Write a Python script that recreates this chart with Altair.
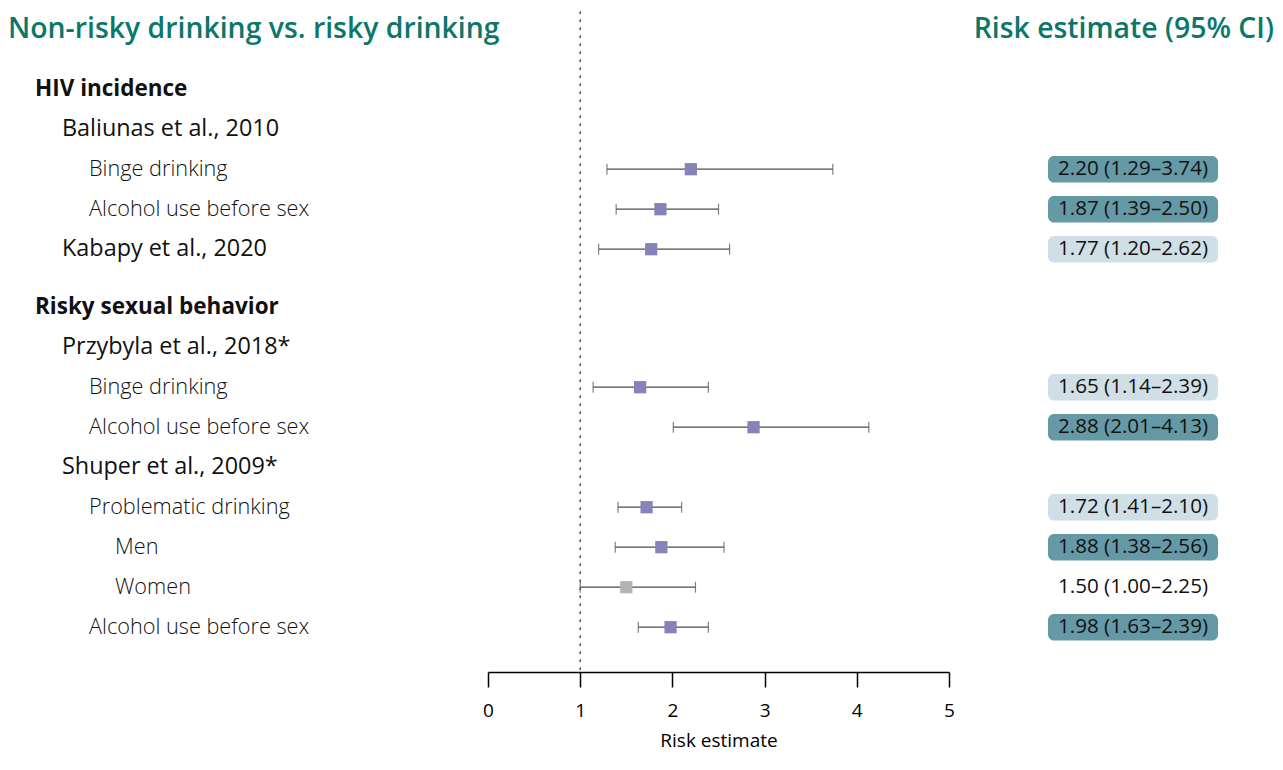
import altair as alt
import pandas as pd

labels = ["HIV incidence", "Baliunas et al., 2010", "Binge drinking", "Alcohol use before sex",
          "Kabapy et al., 2020", "Risky sexual behavior", "Przybyla et al., 2018*", "Binge drinking",
          "Alcohol use before sex", "Shuper et al., 2009*", "Problematic drinking", "Men", "Women",
          "Alcohol use before sex"]
levels = [0, 1, 2, 2, 1, 0, 1, 2, 2, 1, 2, 3, 3, 2]
est = [None, None, 2.20, 1.87, 1.77, None, None, 1.65, 2.88, None, 1.72, 1.88, 1.50, 1.98]
lo = [None, None, 1.29, 1.39, 1.20, None, None, 1.14, 2.01, None, 1.41, 1.38, 1.00, 1.63]
hi = [None, None, 3.74, 2.50, 2.62, None, None, 2.39, 4.13, None, 2.10, 2.56, 2.25, 2.39]
box = [None, None, "dark", "dark", "light", None, None, "light", "dark", None, "light", "dark", "none", "dark"]
sig = [None, None, "yes", "yes", "yes", None, None, "yes", "yes", None, "yes", "yes", "no", "yes"]

# row positions: one unit per row, a little extra space before the second section
pos = []
p = 0.0
for i, lv in enumerate(levels):
    if i > 0 and lv == 0:
        p += 0.45
    pos.append(p)
    p += 1

def fmt(e, l, h):
    if e is None:
        return None
    return f"{e:.2f} ({l:.2f}\u2013{h:.2f})"

df = pd.DataFrame({
    "label": labels, "level": levels, "pos": pos, "est": est, "lo": lo, "hi": hi,
    "box": box, "sig": sig,
    "ci": [fmt(e, l, h) for e, l, h in zip(est, lo, hi)],
})

FONT = "Open Sans"
TEAL = "#0b7768"
W, H = 1267, 664

yscale = alt.Scale(domain=[-2.03, 14.57], reverse=True, nice=False, zero=False)
yenc = alt.Y("pos:Q", scale=yscale, axis=None)
xscale = alt.Scale(domain=[0, 5], range=[480, 941], nice=False, zero=False)

base = alt.Chart(df)
valid = base.transform_filter("isValid(datum.est)")

xaxis = alt.Axis(values=[0, 1, 2, 3, 4, 5], tickSize=15, tickWidth=1.5, tickColor="#000",
                 domainColor="#000", domainWidth=1.5, labelFontSize=19, labelPadding=14,
                 labelFlush=False, labelColor="#000", labelFont=FONT, titleFont=FONT,
                 titleFontSize=19, titleFontWeight="normal", titleColor="#000", titlePadding=11,
                 grid=False, format="d")

refline = alt.Chart(pd.DataFrame({"r": [1]})).mark_rule(
    strokeDash=[1.5, 6.5], strokeCap="round", color="#555", strokeWidth=1.6
).encode(x=alt.X("r:Q", scale=xscale, axis=xaxis, title="Risk estimate"),
         y=alt.value(4), y2=alt.value(H))

bars = valid.mark_rule(color="#4d4d4d", strokeWidth=1.2).encode(
    x=alt.X("lo:Q", scale=xscale), x2="hi:Q", y=yenc)

caps = valid.transform_fold(["lo", "hi"], as_=["end", "val"]).mark_tick(
    orient="vertical", size=11, thickness=1.2, color="#4d4d4d"
).encode(x=alt.X("val:Q", scale=xscale), y=yenc)

squares = valid.mark_square(size=150, opacity=1).encode(
    x=alt.X("est:Q", scale=xscale), y=yenc,
    color=alt.condition("datum.sig == 'yes'", alt.value("#8583b8"), alt.value("#b3b3b3")))

boxes = valid.transform_filter("datum.box != 'none'").transform_calculate(
    y1="datum.pos - 0.33", y2="datum.pos + 0.33"
).mark_rect(cornerRadius=6).encode(
    x=alt.value(1040), x2=alt.value(1210),
    y=alt.Y("y1:Q", scale=yscale, axis=None),
    y2="y2:Q",
    color=alt.condition("datum.box == 'dark'", alt.value("#6699a6"), alt.value("#d0dfe5")))

citext = valid.mark_text(font=FONT, fontSize=20.6, color="#111", align="center", baseline="middle").encode(
    x=alt.value(1125), y=yenc, text="ci:N")

level_x = [27, 54, 81, 107]
level_size = [22.5, 23.4, 21.7, 21.7]
level_weight = ["bold", "normal", 300, 300]
lab_layers = []
for lv in range(4):
    lab_layers.append(
        base.transform_filter(f"datum.level == {lv}").mark_text(
            font=FONT, fontSize=level_size[lv], fontWeight=level_weight[lv], color="#111",
            align="left", baseline="middle"
        ).encode(x=alt.value(level_x[lv]), y=yenc, text="label:N"))

titles = alt.Chart(pd.DataFrame({"t": ["Non-risky drinking vs. risky drinking"]})).mark_text(
    font=FONT, fontSize=28.4, fontWeight=600, color=TEAL, align="left", baseline="middle"
).encode(x=alt.value(0), y=alt.value(21), text="t:N")

title_r = alt.Chart(pd.DataFrame({"t": ["Risk estimate (95% CI)"]})).mark_text(
    font=FONT, fontSize=28.4, fontWeight=600, color=TEAL, align="right", baseline="middle"
).encode(x=alt.value(1266), y=alt.value(21), text="t:N")

chart = alt.layer(refline, bars, caps, squares, boxes, citext, *lab_layers, titles, title_r).properties(
    width=W, height=H, autosize=alt.AutoSizeParams(type="none"), background="white",
    padding={"left": 0, "top": 0, "right": 0, "bottom": 82}
).configure_view(strokeWidth=0, stroke=None)

chart.save("out.html", embed_options={"renderer": "svg", "actions": False})
